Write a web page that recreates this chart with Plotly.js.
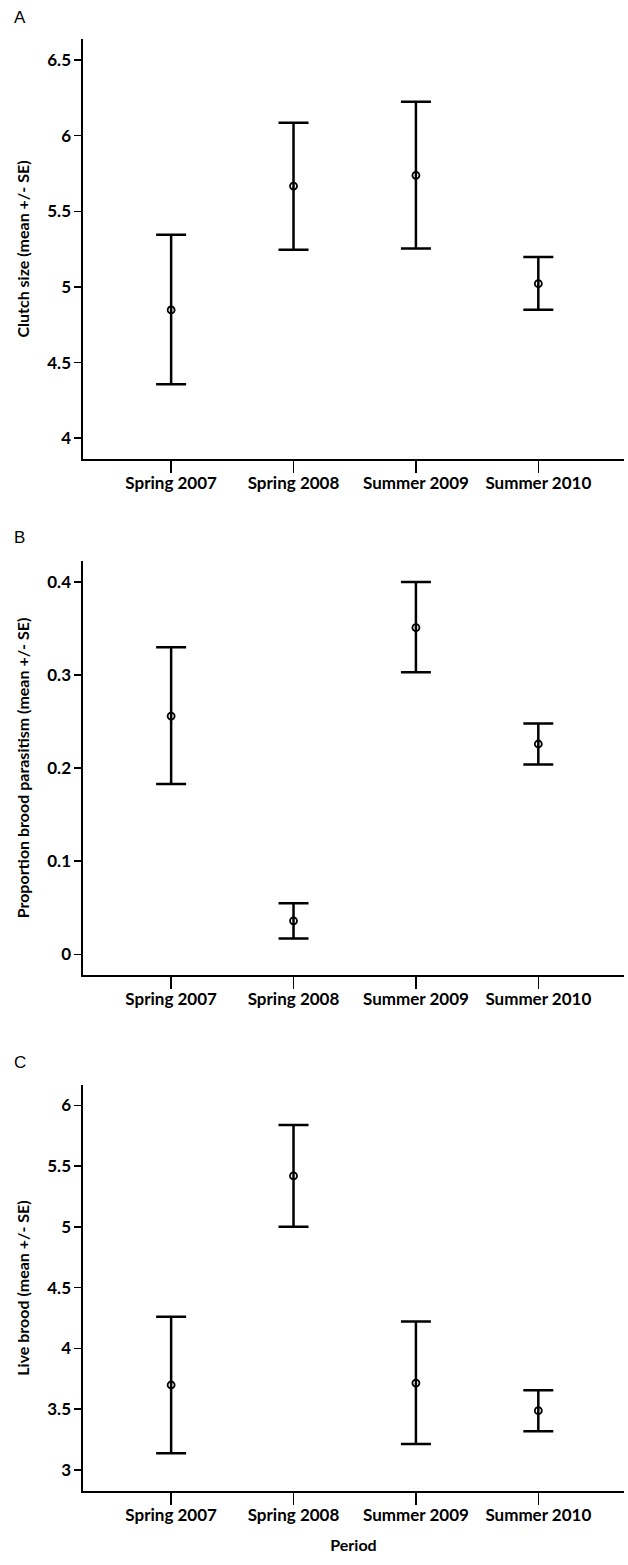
<!DOCTYPE html>
<html>
<head>
<meta charset="utf-8">
<script src="https://cdn.plot.ly/plotly-3.0.1.min.js"></script>
<style>html,body{margin:0;padding:0;background:#fff;}#chart{width:628px;height:1565px;}</style>
</head>
<body>
<div id="chart"></div>
<script>
const categories = ["Spring 2007", "Spring 2008", "Summer 2009", "Summer 2010"];

// Panel A: clutch size
const clutchMean = [4.848, 5.667, 5.738, 5.022];
const clutchUpper = [5.345, 6.086, 6.225, 5.198];
const clutchLower = [4.357, 5.246, 5.255, 4.850];

// Panel B: proportion brood parasitism
const parasitismMean = [0.256, 0.036, 0.351, 0.226];
const parasitismUpper = [0.330, 0.055, 0.400, 0.248];
const parasitismLower = [0.183, 0.017, 0.303, 0.204];

// Panel C: live brood
const broodMean = [3.699, 5.419, 3.715, 3.488];
const broodUpper = [4.260, 5.838, 4.222, 3.655];
const broodLower = [3.137, 5.000, 3.214, 3.318];

const yTicksA = [4, 4.5, 5, 5.5, 6, 6.5];
const yTickTextA = ["4", "4.5", "5", "5.5", "6", "6.5"];
const yTicksB = [0, 0.1, 0.2, 0.3, 0.4];
const yTickTextB = ["0", "0.1", "0.2", "0.3", "0.4"];
const yTicksC = [3, 3.5, 4, 4.5, 5, 5.5, 6];
const yTickTextC = ["3", "3.5", "4", "4.5", "5", "5.5", "6"];

const FONT = "Lato, 'Open Sans', 'DejaVu Sans', sans-serif";

function mkTrace(mean, upper, lower, xa, ya) {
  return {
    type: "scatter", mode: "markers",
    x: categories, y: mean, xaxis: xa, yaxis: ya,
    marker: {symbol: "circle-open", size: 7, color: "#000", line: {width: 1.8, color: "#000"}},
    error_y: {
      type: "data", symmetric: false,
      array: upper.map((u, i) => u - mean[i]),
      arrayminus: lower.map((l, i) => mean[i] - l),
      color: "#000", thickness: 2.5, width: 15
    },
    showlegend: false, hoverinfo: "skip"
  };
}

const data = [
  mkTrace(clutchMean, clutchUpper, clutchLower, "x", "y"),
  mkTrace(parasitismMean, parasitismUpper, parasitismLower, "x2", "y2"),
  mkTrace(broodMean, broodUpper, broodLower, "x3", "y3")
];

function xAxis(anchor, dom, title) {
  const ax = {
    anchor: anchor, domain: dom, type: "category",
    categoryorder: "array", categoryarray: categories,
    range: [-0.72, 3.70],
    showline: true, linecolor: "#000", linewidth: 1.6,
    ticks: "outside", ticklen: 12, tickwidth: 1.6, tickcolor: "#000",
    ticklabelstandoff: -4,
    showgrid: false, zeroline: false,
    tickfont: {family: FONT, size: 17, color: "#000", weight: "bold"},
    fixedrange: true
  };
  if (title) ax.title = {text: title, font: {family: FONT, size: 16, color: "#000", weight: "bold"}, standoff: 16};
  return ax;
}
function yAxis(anchor, dom, range, tv, tt, title) {
  return {
    anchor: anchor, domain: dom, range: range,
    tickmode: "array", tickvals: tv, ticktext: tt,
    showline: true, linecolor: "#000", linewidth: 1.6,
    ticks: "outside", ticklen: 7, tickwidth: 1.6, tickcolor: "#000",
    showgrid: false, zeroline: false,
    tickfont: {family: FONT, size: 17, color: "#000", weight: "bold"},
    title: {text: title, font: {family: FONT, size: 16, color: "#000", weight: "bold"}, standoff: 13},
    fixedrange: true
  };
}

const xdom = [83 / 628, 624 / 628];
const layout = {
  width: 628, height: 1565,
  margin: {l: 0, r: 0, t: 0, b: 0},
  paper_bgcolor: "#fff", plot_bgcolor: "#fff",
  font: {family: FONT, color: "#000"},
  xaxis: xAxis("y", xdom),
  yaxis: yAxis("x", [1 - 459 / 1565, 1 - 39 / 1565], [3.863, 6.639], yTicksA, yTickTextA, "Clutch size (mean +/- SE)"),
  xaxis2: xAxis("y2", xdom),
  yaxis2: yAxis("x2", [1 - 975 / 1565, 1 - 561 / 1565], [-0.0222, 0.4226], yTicksB, yTickTextB, "Proportion brood parasitism (mean +/- SE)"),
  xaxis3: xAxis("y3", xdom, "Period"),
  yaxis3: yAxis("x3", [1 - 1491 / 1565, 1 - 1085 / 1565], [2.827, 6.167], yTicksC, yTickTextC, "Live brood (mean +/- SE)"),
  annotations: [
    {text: "A", x: 12 / 628, y: 1 - 18 / 1565},
    {text: "B", x: 12 / 628, y: 1 - 537 / 1565},
    {text: "C", x: 12 / 628, y: 1 - 1062 / 1565}
  ].map(a => Object.assign(a, {xref: "paper", yref: "paper", xanchor: "left", yanchor: "middle", showarrow: false,
    font: {family: "'Liberation Sans', Arial, sans-serif", size: 17, color: "#000"}}))
};

Plotly.newPlot("chart", data, layout, {displayModeBar: false, staticPlot: true});
</script>
</body>
</html>
